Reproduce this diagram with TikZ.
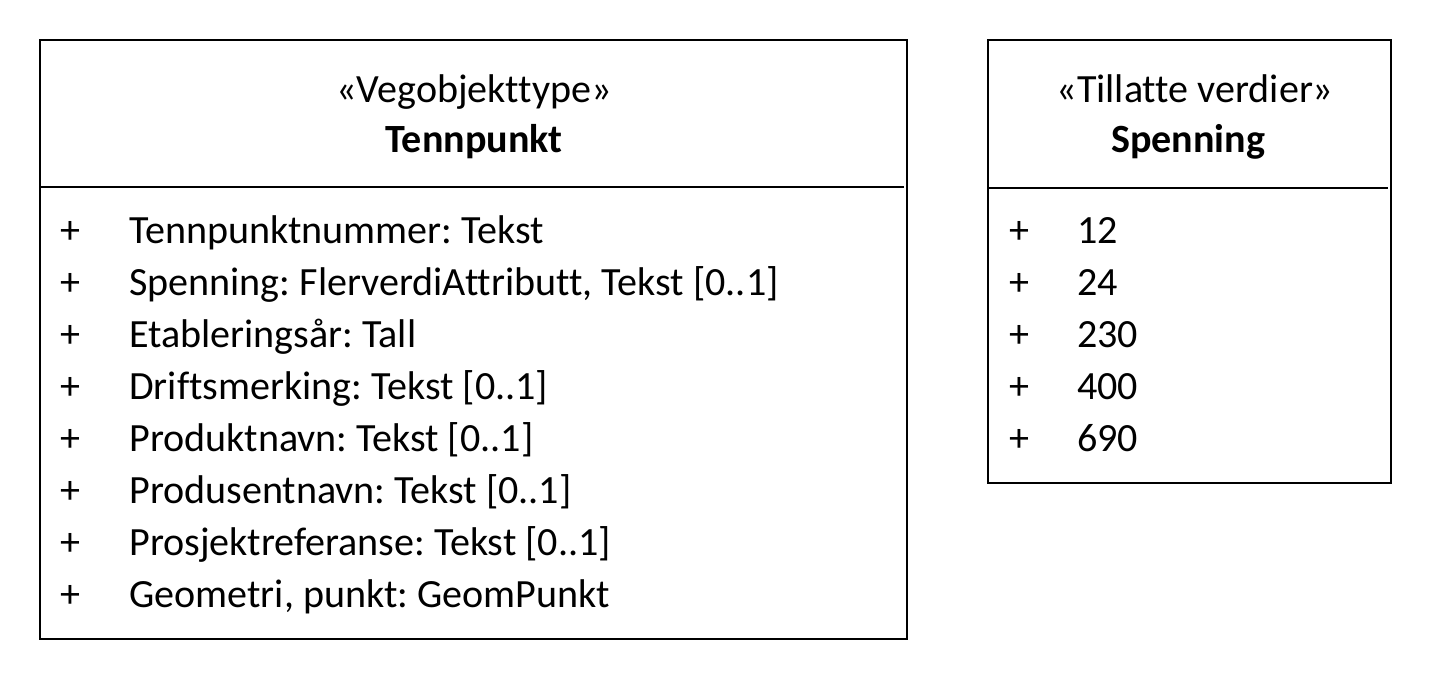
\documentclass[tikz,border=0pt]{standalone}
\usepackage{fontspec}
\setmainfont{Carlito}[Ligatures=NoCommon]
\frenchspacing
\tikzset{
  classbox/.style={draw,line width=0.6pt},
  stereo/.style={anchor=base,font=\fontsize{22.8}{27}\selectfont},
  cname/.style={anchor=base,font=\fontsize{22.8}{27}\selectfont\bfseries},
  attr/.style={anchor=base west,inner sep=0pt,font=\fontsize{22.8}{27}\selectfont},
}
\begin{document}
\begin{tikzpicture}[x=0.02cm,y=-0.02cm]
\useasboundingbox (0,0) rectangle (1432,680);
% Tennpunkt
\draw[classbox] (40,40) rectangle (907,639);
\draw[classbox] (40,187) -- (904,187);
\node[stereo] (tennstereo) at (474,102) {«Vegobjekttype»};
\node[cname] (tennname) at (474,152) {Tennpunkt};
\foreach \txt [count=\i] in {Tennpunktnummer: Tekst,
    {Spenning: FlerverdiAttributt, Tekst [0..1]},
    Etableringsår: Tall,
    Driftsmerking: Tekst [0..1],
    Produktnavn: Tekst [0..1],
    Produsentnavn: Tekst [0..1],
    Prosjektreferanse: Tekst [0..1],
    {Geometri, punkt: GeomPunkt}}{
  \node[attr] (tennplus\i) at (60,{191+52*\i}) {+};
  \node[attr] (tennattr\i) at (129,{191+52*\i}) {\txt};
}
% Spenning
\draw[classbox] (988,40) rectangle (1391,483);
\draw[classbox] (988,188) -- (1388,188);
\node[stereo] (spenstereo) at (1195,102) {«Tillatte verdier»};
\node[cname] (spenname) at (1188,152) {Spenning};
\foreach \val [count=\i] in {12,24,230,400,690}{
  \node[attr] (spenplus\i) at (1009,{191+52*\i}) {+};
  \node[attr] (spenval\i) at (1077,{191+52*\i}) {\val};
}
\end{tikzpicture}
\end{document}
